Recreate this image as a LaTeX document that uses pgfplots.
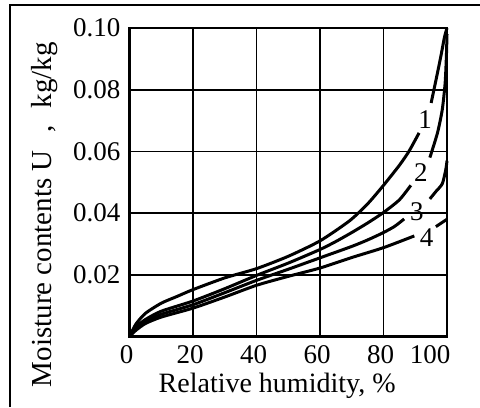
\documentclass[border=0pt]{standalone}
\usepackage{fontspec}
\setmainfont{Liberation Serif}
\usepackage{pgfplots}
\pgfplotsset{compat=1.18}

\begin{document}
\begin{tikzpicture}
    % page = scanned frame, 1px = 0.5pt, origin at the axis' lower left corner
    \useasboundingbox (-64.75pt,-35.25pt) rectangle (175.25pt,168.25pt);
    \draw[line width=1pt] (-59.75pt,-35.25pt) -- (-59.75pt,165.75pt) -- (175.25pt,165.75pt);

    \begin{axis}[
        at={(0,0)}, anchor=south west,
        scale only axis,
        width=158.75pt,
        height=154.25pt,
        xmin=0, xmax=100,
        ymin=0, ymax=0.1,
        xtick={0,20,40,60,80},
        extra x ticks={100},
        extra x tick style={xticklabel style={xshift=-7pt}},
        ytick={0.02,0.04,0.06,0.08,0.1},
        major tick length=0pt,
        grid=major,
        major grid style={black, line width=0.9pt},
        axis line style={line width=1.2pt},
        tick label style={font=\fontsize{13.5}{15}\selectfont},
        xticklabel style={yshift=-1pt, xshift=-1.5pt},
        yticklabel style={xshift=-1pt},
        /pgf/number format/assume math mode=true,
        yticklabel style={/pgf/number format/.cd, fixed, fixed zerofill, precision=2},
        scaled y ticks=false,
        xlabel={Relative humidity, \%},
        ylabel={Moisture contents U\hspace{0.6em},\hspace{0.6em}kg/kg},
        every axis x label/.style={at={(axis description cs:0.465,-0.183)}, anchor=base,
            font=\fontsize{14}{16}\selectfont},
        every axis y label/.style={at={(axis description cs:-0.266,0.395)}, rotate=90, anchor=center,
            font=\fontsize{14.5}{16}\selectfont},
        clip=false,
        ]

        % curve 1
        \addplot[black, line width=1.5pt, smooth, tension=0.4] coordinates {
            (0,0) (2,0.004) (5,0.0075) (10,0.0108) (15,0.013) (20,0.0152)
            (30,0.019) (40,0.022) (50,0.026) (60,0.031) (69.3,0.0375)
            (75,0.043) (80,0.049) (85,0.0555) (88,0.06) (91.2,0.066)
        };
        \addplot[black, line width=1.5pt, smooth, tension=0.4] coordinates {
            (95,0.0757) (96.5,0.083) (98,0.0905) (99.2,0.097) (100,0.1)
        };

        % curve 2
        \addplot[black, line width=1.5pt, smooth, tension=0.4] coordinates {
            (0,0) (2,0.003) (5,0.0055) (10,0.0082) (20,0.0115) (30,0.0155)
            (40,0.0198) (50,0.0238) (60,0.0282) (65,0.0308) (70,0.0337)
            (75,0.0368) (80,0.0402) (85,0.0443) (88.6,0.049)
        };
        \addplot[black, line width=1.5pt, smooth, tension=0.4] coordinates {
            (94.6,0.058) (97,0.066) (98.5,0.0735) (99.4,0.082) (99.8,0.0906) (100,0.098)
        };

        % curve 3
        \addplot[black, line width=1.5pt, smooth, tension=0.4] coordinates {
            (0,0) (2,0.0025) (5,0.0048) (10,0.0072) (20,0.0103) (30,0.0142)
            (40,0.0182) (50,0.0218) (60,0.0255) (70,0.0292) (75,0.0313)
            (80,0.0337) (83.5,0.0357) (86.5,0.0381)
        };
        \addplot[black, line width=1.5pt, smooth, tension=0.4] coordinates {
            (94.6,0.0446) (96.5,0.047) (98.5,0.0495) (99.6,0.054) (100,0.057)
        };

        % curve 4
        \addplot[black, line width=1.5pt, smooth, tension=0.4] coordinates {
            (0,0) (2,0.002) (5,0.0042) (10,0.0063) (20,0.0092) (30,0.0128)
            (40,0.0166) (50,0.0195) (60,0.0222) (70,0.0256) (80,0.0288) (89.7,0.0326)
        };
        \addplot[black, line width=1.5pt, smooth, tension=0.4] coordinates {
            (96.5,0.0356) (100,0.038)
        };

        \node[font=\fontsize{13.5}{15}\selectfont] at (axis cs:93.1,0.0703) {1};
        \node[font=\fontsize{13.5}{15}\selectfont] at (axis cs:91.8,0.053) {2};
        \node[font=\fontsize{13.5}{15}\selectfont] at (axis cs:90.5,0.0405) {3};
        \node[font=\fontsize{13.5}{15}\selectfont] at (axis cs:93.6,0.0319) {4};
    \end{axis}
\end{tikzpicture}
\end{document}
